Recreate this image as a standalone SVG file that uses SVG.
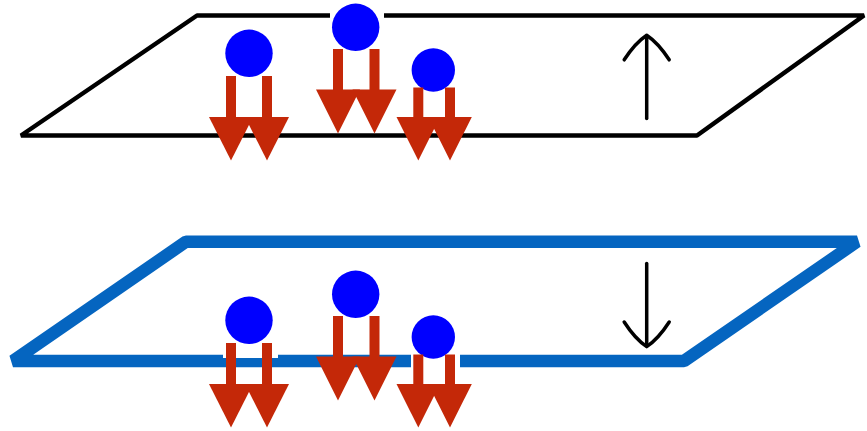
<svg xmlns="http://www.w3.org/2000/svg" xmlns:xlink="http://www.w3.org/1999/xlink" width="867" height="431" viewBox="0 0 867 431">
  <style>
    .plane { fill: none; stroke-linejoin: bevel; }
    .plane-top { stroke: #000000; stroke-width: 4.5; }
    .plane-bottom { stroke: #0565c0; stroke-width: 12.5; }
    .ball { fill: #0000ff; }
    .dart { fill: #c42808; }
    .mask { fill: #ffffff; }
    .motion { fill: none; stroke: #000000; stroke-width: 3.5; stroke-linecap: round; stroke-linejoin: round; }
  </style>
  <defs>
    <!-- particle + paired force arrows, drawn at the upper plane's height -->
    <g id="particle-a">
      <rect class="mask" x="223" y="27" width="55" height="64"/>
      <circle class="ball" cx="249" cy="53.3" r="23.7"/>
      <rect class="dart" x="226" y="76" width="10" height="42"/>
      <rect class="dart" x="262" y="76" width="10" height="42"/>
      <polygon class="dart" points="209,117 253,117 231,160.5"/>
      <polygon class="dart" points="245,117 289,117 267,160.5"/>
    </g>
    <g id="particle-b">
      <rect class="mask" x="330" y="2" width="54" height="55"/>
      <circle class="ball" cx="355.7" cy="27.3" r="23.7"/>
      <rect class="dart" x="333" y="49" width="10" height="41"/>
      <rect class="dart" x="369.5" y="49" width="10" height="41"/>
      <polygon class="dart" points="316,89.5 360,89.5 338,133.5"/>
      <polygon class="dart" points="352.5,89.5 396.5,89.5 374.5,133.5"/>
    </g>
    <g id="particle-c">
      <rect class="mask" x="411" y="46" width="49" height="57"/>
      <circle class="ball" cx="433.3" cy="70" r="21.7"/>
      <rect class="dart" x="413.3" y="87.5" width="10" height="30"/>
      <rect class="dart" x="445" y="87.5" width="10" height="30"/>
      <polygon class="dart" points="396.5,117 440.1,117 418.3,160.5"/>
      <polygon class="dart" points="428.2,117 471.8,117 450,160.5"/>
    </g>
  </defs>

  <!-- upper plane -->
  <g id="plane-upper">
    <path class="plane plane-top" d="M21,135.5 L197,15.5 L864,15.5 L697,135.5 Z"/>
  </g>
  <!-- lower plane -->
  <g id="plane-lower">
    <path class="plane plane-bottom" d="M13,361 L186,241.7 L857,241.7 L684,361 Z"/>
  </g>

  <!-- particles on the upper plane -->
  <g id="upper-particle-1"><use xlink:href="#particle-a"/></g>
  <g id="upper-particle-2"><use xlink:href="#particle-b"/></g>
  <g id="upper-particle-3"><use xlink:href="#particle-c"/></g>

  <!-- particles on the lower plane -->
  <g id="lower-particle-1" transform="translate(0,267)"><use xlink:href="#particle-a"/></g>
  <g id="lower-particle-2" transform="translate(0,267)"><use xlink:href="#particle-b"/></g>
  <g id="lower-particle-3" transform="translate(0,267)"><use xlink:href="#particle-c"/></g>

  <!-- plane motion indicators -->
  <g id="connectors">
    <g id="motion-up">
      <path class="motion" d="M646.7,118.5 V36.5"/>
      <path class="motion" d="M624.2,59.8 Q635,43 646.7,35.2 Q658.4,43 669.2,59.8"/>
    </g>
    <g id="motion-down">
      <path class="motion" d="M646.7,263.5 V345.5"/>
      <path class="motion" d="M624.2,322 Q635,338.8 646.7,346.6 Q658.4,338.8 669.2,322"/>
    </g>
  </g>
</svg>
